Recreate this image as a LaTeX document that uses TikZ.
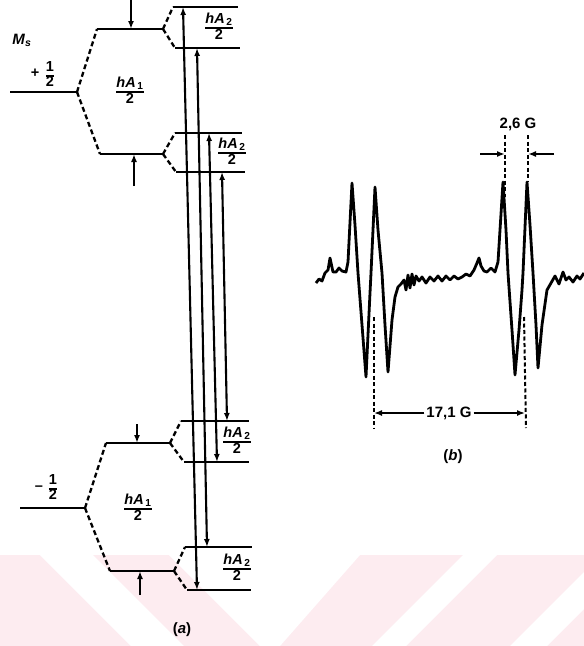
\documentclass[tikz,border=0pt]{standalone}
\usepackage{fontspec}
\setmainfont{Liberation Sans}
\usetikzlibrary{arrows.meta}
\definecolor{wmpink}{RGB}{253,236,240}
\newcommand{\myfr}[2]{{\setlength{\arrayrulewidth}{1.8pt}\renewcommand{\arraystretch}{0.85}\begin{tabular}{@{}c@{}}#1\\\hline #2\end{tabular}}}
\newcommand{\hAtwo}{\textit{hA}\textsubscript{\,2}}
\newcommand{\hAone}{\textit{hA}\textsubscript{\,1}}
\begin{document}
\begin{tikzpicture}[x=1pt,y=-1pt,
  lvl/.style={line width=2.6pt},
  brl/.style={line width=2.3pt, dash pattern=on 5pt off 3pt},
  trl/.style={line width=2.1pt, {Latex[length=8pt,width=6pt]}-{Latex[length=8pt,width=6pt]}},
  spl/.style={line width=2.1pt, -{Latex[length=8pt,width=6pt]}},
  spec/.style={line width=2.8pt, line join=round},
  sdash/.style={line width=2pt, dash pattern=on 4pt off 2.5pt},
  lab/.style={font=\bfseries\fontsize{15}{16}\selectfont, inner sep=0pt},
  fr/.style={font=\bfseries\fontsize{14.5}{15}\selectfont, inner sep=0pt}]
\useasboundingbox (0,0) rectangle (584,646);
% watermark band
\fill[wmpink] (0,555) rectangle (584,646);
\fill[white] (40,555) -- (93,555) -- (184,646) -- (131,646) -- cycle;
\fill[white] (169,555) -- (360,555) -- (280,646) -- (260,646) -- cycle;
\fill[white] (463,555) -- (497,555) -- (406,646) -- (372,646) -- cycle;
\fill[white] (601,555) -- (638,555) -- (547,646) -- (510,646) -- cycle;
\fill[white] (584,540) rectangle (600,646);

% ---------- (a) upper multiplet ----------
\coordinate (p0) at (10,92);  \coordinate (pv) at (77,92);
\coordinate (pu1) at (97,29); \coordinate (pu2) at (163,29);
\coordinate (pl1) at (100,154); \coordinate (pl2) at (163,154);
\coordinate (a1s) at (173,7);   \coordinate (a1e) at (238,7);
\coordinate (a2s) at (175,48);  \coordinate (a2e) at (240,48);
\coordinate (a3s) at (175,133); \coordinate (a3e) at (242,133);
\coordinate (a4s) at (176,172); \coordinate (a4e) at (245,172);
\draw[lvl] (p0) -- (pv);
\draw[brl] (pv) -- (pu1); \draw[brl] (pv) -- (pl1);
\draw[lvl] (pu1) -- (pu2); \draw[lvl] (pl1) -- (pl2);
\draw[brl] (pu2) -- (a1s); \draw[brl] (pu2) -- (a2s);
\draw[brl] (pl2) -- (a3s); \draw[brl] (pl2) -- (a4s);
\draw[lvl] (a1s) -- (a1e); \draw[lvl] (a2s) -- (a2e);
\draw[lvl] (a3s) -- (a3e); \draw[lvl] (a4s) -- (a4e);
\coordinate (ar1s) at (131,0);   \coordinate (ar1e) at (131,29);
\coordinate (ar2s) at (134,186); \coordinate (ar2e) at (134,154);
\draw[spl] (ar1s) -- (ar1e); \draw[spl] (ar2s) -- (ar2e);

% ---------- (a) lower multiplet ----------
\coordinate (m0) at (20,508);  \coordinate (mv) at (85,508);
\coordinate (mu1) at (106,443); \coordinate (mu2) at (170,443);
\coordinate (ml1) at (110,571); \coordinate (ml2) at (174,571);
\coordinate (b1s) at (181,421); \coordinate (b1e) at (249,421);
\coordinate (b2s) at (184,462); \coordinate (b2e) at (249,462);
\coordinate (b3s) at (185,547); \coordinate (b3e) at (252,547);
\coordinate (b4s) at (187,590); \coordinate (b4e) at (251,590);
\draw[lvl] (m0) -- (mv);
\draw[brl] (mv) -- (mu1); \draw[brl] (mv) -- (ml1);
\draw[lvl] (mu1) -- (mu2); \draw[lvl] (ml1) -- (ml2);
\draw[brl] (mu2) -- (b1s); \draw[brl] (mu2) -- (b2s);
\draw[brl] (ml2) -- (b3s); \draw[brl] (ml2) -- (b4s);
\draw[lvl] (b1s) -- (b1e); \draw[lvl] (b2s) -- (b2e);
\draw[lvl] (b3s) -- (b3e); \draw[lvl] (b4s) -- (b4e);
\coordinate (ar3s) at (137,424); \coordinate (ar3e) at (137,443);
\coordinate (ar4s) at (140,595); \coordinate (ar4e) at (140,571);
\draw[spl] (ar3s) -- (ar3e); \draw[spl] (ar4s) -- (ar4e);

% ---------- transitions ----------
\coordinate (t1a) at (183,7);   \coordinate (t1b) at (197,590);
\coordinate (t2a) at (197,48);  \coordinate (t2b) at (207,547);
\coordinate (t3a) at (209,133); \coordinate (t3b) at (217,462);
\coordinate (t4a) at (222,172); \coordinate (t4b) at (227,421);
\draw[trl] (t1a) -- (t1b);
\draw[trl] (t2a) -- (t2b);
\draw[trl] (t3a) -- (t3b);
\draw[trl] (t4a) -- (t4b);

% ---------- labels (a) ----------
\node[lab] (ms) at (22,40) {\textit{M}\textsubscript{\textit{s}}};
\node[fr] (plus) at (35,73) {+};
\node[fr] (ph) at (50,76) {\myfr{1}{2}};
\node[fr] (minus) at (39,488) {\textendash};
\node[fr] (mh) at (53,489) {\myfr{1}{2}};
\node[fr] (hA1u) at (130,92) {\myfr{\hAone}{2}};
\node[fr] (hA1l) at (138,509) {\myfr{\hAone}{2}};
\node[fr] (hA2a) at (219,28) {\myfr{\hAtwo}{2}};
\node[fr] (hA2b) at (232,153) {\myfr{\hAtwo}{2}};
\node[fr] (hA2c) at (237,442) {\myfr{\hAtwo}{2}};
\node[fr] (hA2d) at (237,569) {\myfr{\hAtwo}{2}};
\node[lab] (capa) at (182,630) {(\textit{a})};

% ---------- (b) spectrum ----------
\draw[spec] plot coordinates {
(316,283) (319,279) (322,281) (325,273) (328,270) (330,258) (333,272) (336,272)
(339,268) (342,271) (346,272) (348,262) (352,183) (355,225) (358,273) (362,325)
(366,377) (368,335) (370,293) (371,273) (375,187) (378,230) (382,273) (385,325)
(388,372) (392,320) (395,297) (398,287) (401,284) (404,280) (406,290) (408,275)
(410,288) (412,274) (414,285) (416,276) (419,281) (422,277) (426,283) (430,277)
(434,281) (438,276) (442,281) (446,276) (450,280) (454,276) (458,279) (462,277)
(466,274) (470,276) (474,270) (477,263) (479,258) (481,266) (484,271) (487,272)
(491,268) (495,272) (498,262) (503,182) (506,230) (508,273) (512,330) (515,375)
(519,330) (522,290) (523,273) (527,182) (530,225) (533,273) (536,325) (538,368)
(542,325) (547,290) (551,283) (555,276) (559,284) (563,272) (566,280) (569,277)
(573,282) (577,276) (580,279) (584,273)};

% 2,6 G
\node[lab] (t26) at (518,124) {2,6 G};
\coordinate (d1a) at (505,135); \coordinate (d1b) at (505,197);
\coordinate (d2a) at (528,135); \coordinate (d2b) at (528,182);
\draw[sdash] (d1a) -- (d1b);
\draw[sdash] (d2a) -- (d2b);
\coordinate (h1) at (480,154); \coordinate (h1e) at (505,154);
\coordinate (h2) at (554,154); \coordinate (h2e) at (528,154);
\draw[spl] (h1) -- (h1e);
\draw[spl] (h2) -- (h2e);

% 17,1 G
\coordinate (e1a) at (374,317); \coordinate (e1b) at (374,428);
\coordinate (e2a) at (524,317); \coordinate (e2b) at (526,428);
\draw[sdash] (e1a) -- (e1b);
\draw[sdash] (e2a) -- (e2b);
\node[lab, fill=white, inner xsep=2pt] (t171) at (449,413) {17,1 G};
\coordinate (g1) at (374,413); \coordinate (g2) at (525,413);
\draw[spl, line width=1.5pt] (t171.west) -- (g1);
\draw[spl, line width=1.5pt] (t171.east) -- (g2);
\node[lab] (capb) at (453,457) {(\textit{b})};
\end{tikzpicture}
\end{document}
